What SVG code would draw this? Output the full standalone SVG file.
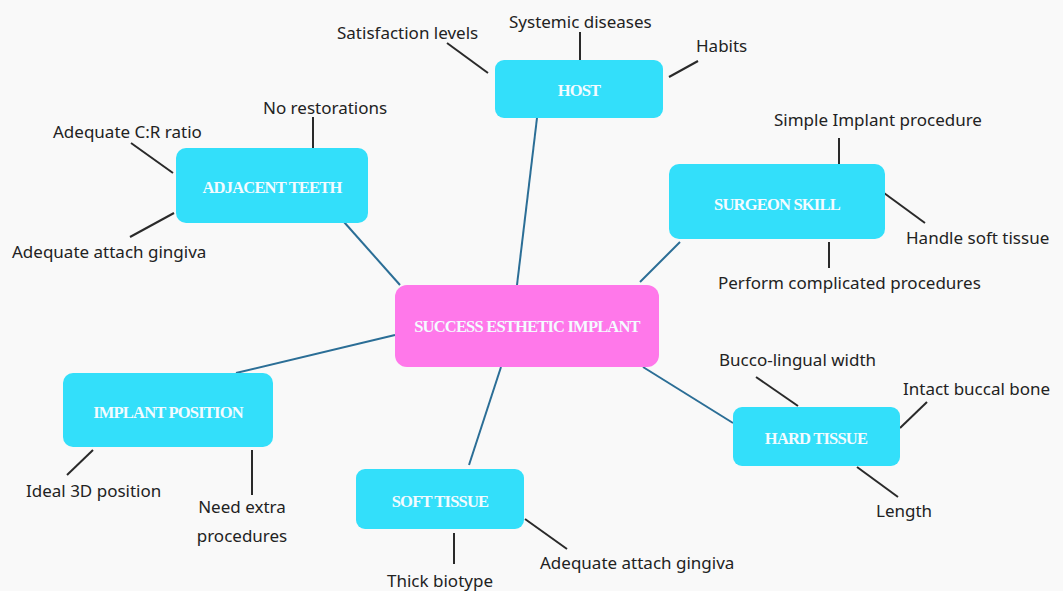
<svg xmlns="http://www.w3.org/2000/svg" width="1063" height="591" viewBox="0 0 1063 591">
<style>
.node{fill:#33DFFA}
.center{fill:#FF78EA}
.nt{font-family:"Liberation Serif","DejaVu Serif",serif;font-weight:bold;font-size:16.5px;letter-spacing:-0.8px;fill:#F4FBFF;text-anchor:middle;dominant-baseline:central}
.lb{font-family:"Noto Sans","Open Sans",sans-serif;font-size:17px;fill:#222}
.conn{stroke:#2B6E96;stroke-width:2;fill:none}
.sub{stroke:#2a2a2a;stroke-width:2;fill:none}
</style>
<rect width="1063" height="591" fill="#F9F9F9"/>
<g id="connectors">
<line class="conn" x1="537" y1="118" x2="517" y2="285"/>
<line class="conn" x1="344" y1="222" x2="400" y2="285"/>
<line class="conn" x1="640" y1="282" x2="680" y2="242"/>
<line class="conn" x1="643" y1="367" x2="733" y2="423"/>
<line class="conn" x1="395" y1="335" x2="236" y2="373"/>
<line class="conn" x1="501" y1="367" x2="469" y2="465"/>
<line class="sub" x1="447" y1="43" x2="488" y2="73"/>
<line class="sub" x1="580" y1="32" x2="580" y2="61"/>
<line class="sub" x1="669" y1="77" x2="698" y2="61"/>
<line class="sub" x1="131" y1="143" x2="173" y2="173"/>
<line class="sub" x1="313" y1="117" x2="313" y2="148"/>
<line class="sub" x1="130" y1="237" x2="174" y2="213"/>
<line class="sub" x1="839" y1="138" x2="839" y2="164"/>
<line class="sub" x1="884" y1="193" x2="925" y2="223"/>
<line class="sub" x1="829" y1="242" x2="829" y2="268"/>
<line class="sub" x1="756" y1="377" x2="798" y2="406"/>
<line class="sub" x1="900" y1="428" x2="927" y2="402"/>
<line class="sub" x1="857" y1="467" x2="898" y2="497"/>
<line class="sub" x1="93" y1="450" x2="67" y2="475"/>
<line class="sub" x1="252" y1="450" x2="252" y2="495"/>
<line class="sub" x1="454" y1="533" x2="454" y2="564"/>
<line class="sub" x1="525" y1="519" x2="567" y2="549"/>
</g>
<g id="center">
<rect class="center" x="395" y="285" width="264" height="82" rx="12"/>
<text class="nt" x="527" y="326">SUCCESS ESTHETIC IMPLANT</text>
</g>
<g id="host">
<rect class="node" x="495" y="60" width="168" height="58" rx="9"/>
<text class="nt" x="579" y="90">HOST</text>
<text class="lb" x="337" y="39">Satisfaction levels</text>
<text class="lb" x="509" y="28">Systemic diseases</text>
<text class="lb" x="696" y="52">Habits</text>
</g>
<g id="adjacent-teeth">
<rect class="node" x="176" y="148" width="192" height="75" rx="10"/>
<text class="nt" x="272" y="187">ADJACENT TEETH</text>
<text class="lb" x="53" y="138">Adequate C:R ratio</text>
<text class="lb" x="263" y="114">No restorations</text>
<text class="lb" x="12" y="258">Adequate attach gingiva</text>
</g>
<g id="surgeon-skill">
<rect class="node" x="669" y="164" width="216" height="75" rx="10"/>
<text class="nt" x="777" y="204">SURGEON SKILL</text>
<text class="lb" x="774" y="126">Simple Implant procedure</text>
<text class="lb" x="906" y="244">Handle soft tissue</text>
<text class="lb" x="718" y="289">Perform complicated procedures</text>
</g>
<g id="hard-tissue">
<rect class="node" x="733" y="407" width="167" height="59" rx="9"/>
<text class="nt" x="816" y="438">HARD TISSUE</text>
<text class="lb" x="719" y="366">Bucco-lingual width</text>
<text class="lb" x="903" y="395">Intact buccal bone</text>
<text class="lb" x="876" y="517">Length</text>
</g>
<g id="implant-position">
<rect class="node" x="63" y="373" width="210" height="74" rx="10"/>
<text class="nt" x="168" y="412">IMPLANT POSITION</text>
<text class="lb" x="26" y="497">Ideal 3D position</text>
<text class="lb" x="242" y="513" text-anchor="middle">Need extra</text>
<text class="lb" x="242" y="542" text-anchor="middle">procedures</text>
</g>
<g id="soft-tissue">
<rect class="node" x="356" y="469" width="168" height="60" rx="9"/>
<text class="nt" x="440" y="501">SOFT TISSUE</text>
<text class="lb" x="387" y="587">Thick biotype</text>
<text class="lb" x="540" y="569">Adequate attach gingiva</text>
</g>
</svg>
